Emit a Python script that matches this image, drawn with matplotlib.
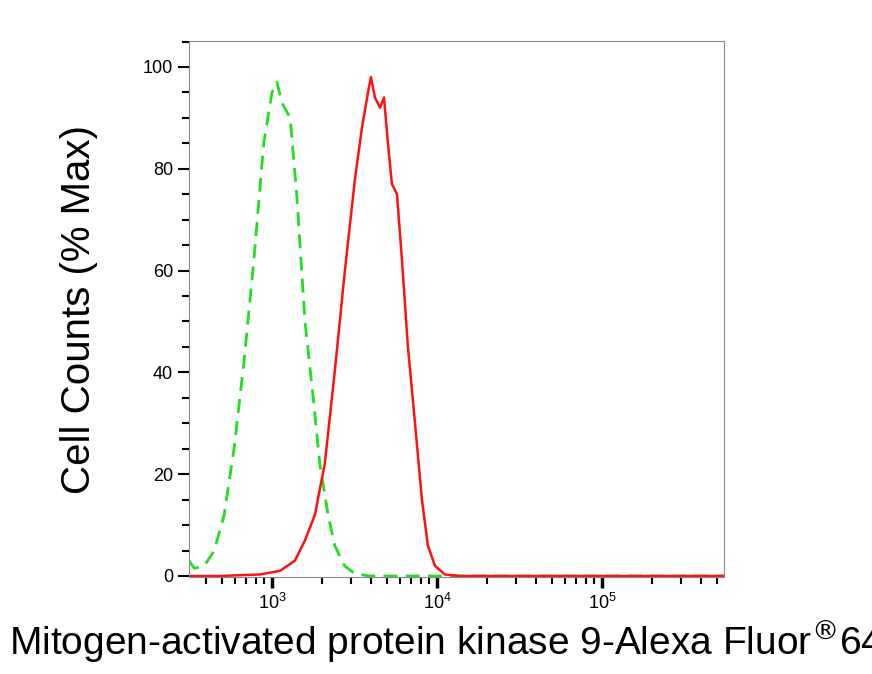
import matplotlib
matplotlib.use("Agg")
import matplotlib.pyplot as plt
import numpy as np
from matplotlib.ticker import LogLocator, MultipleLocator, NullFormatter

plt.rcParams['font.family'] = ['Liberation Sans', 'DejaVu Sans']

# x positions given as log10 intensity
green_log = [2.497, 2.53, 2.59, 2.65, 2.71, 2.77, 2.83, 2.89, 2.95, 3.0, 3.03, 3.06, 3.11, 3.15, 3.2, 3.25, 3.29, 3.34, 3.38, 3.44, 3.5, 3.59, 5.74]
green_val = [3, 1.5, 2, 5, 12, 25, 42, 62, 85, 95, 97, 93, 90, 75, 50, 35, 22, 12, 6, 2, 0.5, 0, 0]
red_log = [2.497, 2.685, 2.927, 3.048, 3.139, 3.2, 3.26, 3.32, 3.38, 3.442, 3.503, 3.545, 3.582, 3.6, 3.624, 3.655, 3.679, 3.703, 3.727, 3.758, 3.788, 3.824, 3.867, 3.909, 3.945, 3.988, 4.048, 4.139, 5.74]
red_val = [0, 0, 0.3, 1, 3, 7, 12, 22, 40, 60, 78, 88, 95, 98, 94, 92, 94, 85, 77, 75, 62, 45, 30, 15, 6, 2, 0.3, 0, 0]

fig = plt.figure(figsize=(8.72, 6.74), dpi=100)
ax = fig.add_axes([189/872, 1-577/674, (724-189)/872, (577-41)/674])
ax.plot(10**np.array(green_log), green_val, color='#22dd22', lw=2, ls=(0, (5, 3)))
ax.plot(10**np.array(red_log), red_val, color='#ff1111', lw=1.8)
ax.set_xscale('log')
ax.set_xlim(10**2.497, 10**5.74)
ax.set_ylim(-0.2, 105.1)
ax.xaxis.set_major_locator(LogLocator(base=10, numticks=10))
ax.xaxis.set_minor_locator(LogLocator(base=10, subs=np.arange(2, 10), numticks=20))
ax.xaxis.set_minor_formatter(NullFormatter())
ax.yaxis.set_major_locator(MultipleLocator(20))
ax.yaxis.set_minor_locator(MultipleLocator(5))
ax.tick_params(which='major', length=8, width=2.5, labelsize=13, direction='out')
ax.tick_params(which='minor', length=5, width=1.5, direction='out')
ax.tick_params(axis='y', which='major', width=1.5)
for s in ax.spines.values():
    s.set_color('#888888')
ax.set_xlabel('Mitogen-activated protein kinase 9-Alexa Fluor$^{®}$647', fontsize=28)
ax.set_ylabel('Cell Counts (% Max)', fontsize=29, labelpad=32)
fig.savefig('out.png')
